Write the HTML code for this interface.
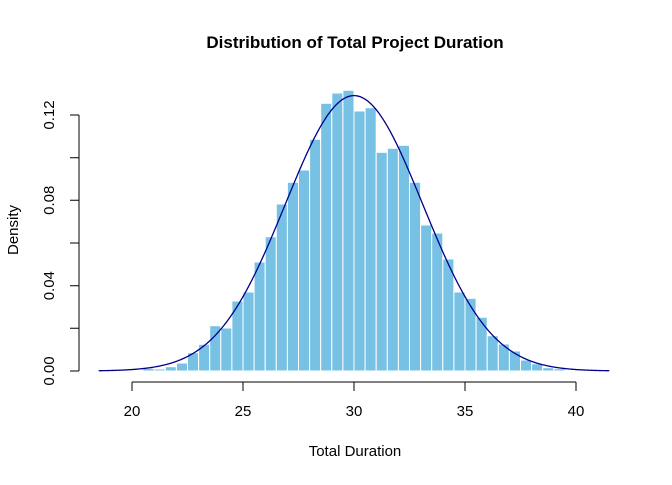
<!DOCTYPE html>
<html><head><meta charset="utf-8"><style>
body{margin:0;background:#fff;}
svg text{font-family:"Liberation Sans",Arial,sans-serif;fill:#000;}
</style></head><body>
<svg id="s" width="672" height="480" xmlns="http://www.w3.org/2000/svg">
<text x="355" y="48" text-anchor="middle" font-size="17" font-weight="bold">Distribution of Total Project Duration</text>
<g id="bars" fill="#77c1e4" stroke="#fff" stroke-width="1"></g>
<path id="curve" fill="none" stroke="#00008b" stroke-width="1.3"/>
<g stroke="#000" stroke-width="1" fill="none">
<path d="M132 382H576M132 382V391M243 382V391M354 382V391M465 382V391M576 382V391"/>
<path d="M79 371V115M79 371H70M79 328.3H70M79 285.7H70M79 243H70M79 200.3H70M79 157.7H70M79 115H70"/>
</g>
<g font-size="15" text-anchor="middle">
<text x="132" y="416">20</text><text x="243" y="416">25</text><text x="354" y="416">30</text><text x="465" y="416">35</text><text x="576" y="416">40</text>
<text transform="translate(54,371) rotate(-90)">0.00</text>
<text transform="translate(54,285.7) rotate(-90)">0.04</text>
<text transform="translate(54,200.3) rotate(-90)">0.08</text>
<text transform="translate(54,115) rotate(-90)">0.12</text>
<text x="355" y="456">Total Duration</text>
<text transform="translate(18,230) rotate(-90)">Density</text>
</g>
</svg>
<script>
var s="http://www.w3.org/2000/svg";
var tops=[368.3,369,366.7,363,352.7,344.3,325.7,328,301,292,262,236.7,204,182.3,170,139.3,103.3,93,90.3,111,107.7,152.3,148.3,145.3,182.3,225,233,259,292,298.3,317.3,335.7,344,351,360,363.7,367.7,368.7];
var g=document.getElementById('bars');
function px(x){return 132+(x-20)*22.2;}
for(var i=0;i<tops.length;i++){var r=document.createElementNS(s,'rect');var x0=px(20.5+i*0.5);
r.setAttribute('x',x0);r.setAttribute('y',tops[i]);r.setAttribute('width',11.1);r.setAttribute('height',371-tops[i]);g.appendChild(r);}
var d='',sd=3.09;
for(var x=18.5;x<=41.5;x+=0.05){var y=Math.exp(-Math.pow(x-30,2)/(2*sd*sd))/(sd*Math.sqrt(2*Math.PI));
d+=(d?'L':'M')+px(x).toFixed(2)+' '+(371-y*2133).toFixed(2);}
document.getElementById('curve').setAttribute('d',d);
</script>
</body></html>
